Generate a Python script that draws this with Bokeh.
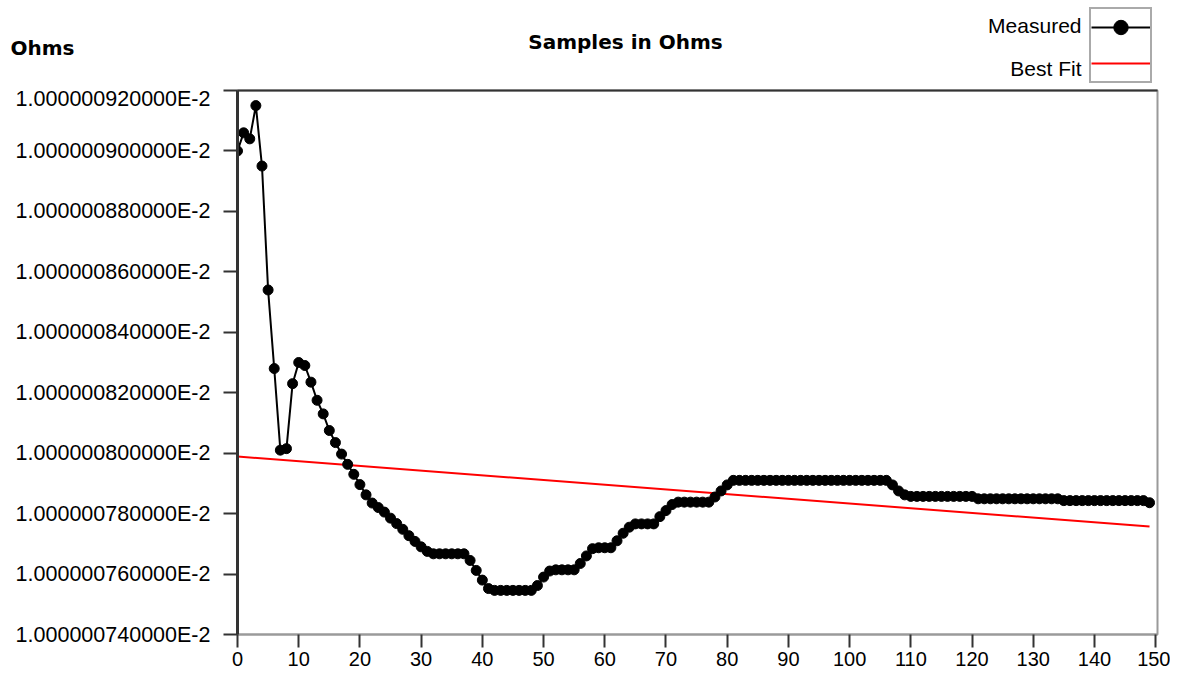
from bokeh.plotting import figure
from bokeh.layouts import column
from bokeh.models import (FixedTicker, CustomJSTickFormatter, Legend, LegendItem,
                          Label, LinearAxis, Range1d)
from bokeh.core.properties import value
from bokeh.embed import file_html
from bokeh.resources import INLINE

# Resistance samples: values are nano-ohms above 1.0E-2 ohm
SAMPLE_INDEX = list(range(150))
MEASURED_NOHM = [
    9.00, 9.06, 9.04, 9.15, 8.95, 8.54, 8.28, 8.01, 8.015, 8.23,
    8.30, 8.29, 8.235, 8.175, 8.13, 8.075, 8.035, 7.997, 7.963, 7.930,
    7.896, 7.862, 7.835, 7.820, 7.805, 7.785, 7.767, 7.748, 7.727, 7.708,
    7.690, 7.675, 7.667, 7.667, 7.667, 7.667, 7.667, 7.667, 7.645, 7.612,
    7.580, 7.552, 7.546, 7.546, 7.546, 7.546, 7.546, 7.546, 7.546, 7.562,
    7.590, 7.610, 7.614, 7.614, 7.614, 7.614, 7.635, 7.660, 7.684, 7.687,
    7.687, 7.687, 7.710, 7.735, 7.755, 7.766, 7.766, 7.766, 7.766, 7.790,
    7.810, 7.830, 7.838, 7.838, 7.838, 7.838, 7.838, 7.838, 7.855, 7.875,
    7.895, 7.910, 7.910, 7.910, 7.910, 7.910, 7.910, 7.910, 7.910, 7.910,
    7.910, 7.910, 7.910, 7.910, 7.910, 7.910, 7.910, 7.910, 7.910, 7.910,
    7.910, 7.910, 7.910, 7.910, 7.910, 7.910, 7.910, 7.895, 7.875, 7.862,
    7.857, 7.857, 7.857, 7.857, 7.857, 7.857, 7.857, 7.857, 7.857, 7.857,
    7.857, 7.849, 7.849, 7.849, 7.849, 7.849, 7.849, 7.849, 7.849, 7.849,
    7.849, 7.849, 7.849, 7.849, 7.849, 7.843, 7.843, 7.843, 7.843, 7.843,
    7.843, 7.843, 7.843, 7.843, 7.843, 7.843, 7.843, 7.843, 7.843, 7.836,
]
FIT_INDEX = [0, 149]
FIT_NOHM = [7.989, 7.757]

SERIES_NAMES = ["Measured", "Best Fit"]
TITLE = "Samples in Ohms"
Y_NAME = "Ohms"

X_TICKS = list(range(0, 151, 10))
Y_TICKS = [7.4, 7.6, 7.8, 8.0, 8.2, 8.4, 8.6, 8.8, 9.0, 9.2]
Y_TICK_LABELS = [
    "1.000000740000E-2", "1.000000760000E-2", "1.000000780000E-2",
    "1.000000800000E-2", "1.000000820000E-2", "1.000000840000E-2",
    "1.000000860000E-2", "1.000000880000E-2", "1.000000900000E-2",
    "1.000000920000E-2",
]

TICK_FONT = "Liberation Sans"
BOLD_FONT = "DejaVu Sans"
W = 1170
TOP_H = 86

# ---------------- header strip (title, unit name, legend) ----------------
top = figure(width=W, height=TOP_H, output_backend="svg", toolbar_location=None,
             x_range=Range1d(0, W), y_range=Range1d(TOP_H, 0),
             x_axis_location=None, y_axis_location=None, min_border=0,
             min_border_left=0, min_border_right=0, min_border_top=0,
             min_border_bottom=0)
top.frame_align = False
top.outline_line_color = None
top.background_fill_color = "white"
top.border_fill_color = "white"
top.grid.visible = False

top.add_layout(Label(x=625, y=41, text=TITLE, text_align="center",
                     text_baseline="middle", text_font=BOLD_FONT,
                     text_font_style="bold", text_font_size="20px",
                     text_color="black"))
top.add_layout(Label(x=10, y=47, text=Y_NAME, text_align="left",
                     text_baseline="middle", text_font=BOLD_FONT,
                     text_font_style="bold", text_font_size="20px",
                     text_color="black"))
for txt, ly in zip(SERIES_NAMES, (25, 68)):
    top.add_layout(Label(x=1081, y=ly, text=txt, text_align="right",
                         text_baseline="middle", text_font=TICK_FONT,
                         text_font_size="21px", text_color="black"))

# legend swatch renderers: same series and styles, mapped onto a range that
# keeps them out of view in the header strip (only their legend swatch shows)
top.extra_x_ranges = {"series_x": Range1d(1000, 1001)}
top.extra_y_ranges = {"series_y": Range1d(1000, 1001)}
sw_line = top.line(SAMPLE_INDEX, MEASURED_NOHM, line_color="black", line_width=2,
                   x_range_name="series_x", y_range_name="series_y")
sw_pts = top.scatter(SAMPLE_INDEX, MEASURED_NOHM, size=10, fill_color="black",
                     line_color="black", x_range_name="series_x",
                     y_range_name="series_y")
sw_fit = top.line(FIT_INDEX, FIT_NOHM, line_color="#ff0000", line_width=2,
                  x_range_name="series_x", y_range_name="series_y")
legend = Legend(items=[LegendItem(label=value(""), renderers=[sw_line, sw_pts]),
                       LegendItem(label=value(""), renderers=[sw_fit])],
                location=(1089, 3), glyph_width=59, glyph_height=36,
                label_width=0, label_standoff=0, label_height=0, padding=0,
                spacing=0, margin=0, border_line_color="#555555",
                border_line_width=2, background_fill_color="white",
                background_fill_alpha=1.0)
top.add_layout(legend)

# ---------------- main chart ----------------
p = figure(width=W, height=674 - TOP_H, output_backend="svg", toolbar_location=None,
           x_range=Range1d(0, 150.3), y_range=Range1d(7.4, 9.2),
           min_border_left=237, min_border_right=13, min_border_top=4,
           min_border_bottom=40)
p.frame_align = False
p.background_fill_color = "white"
p.border_fill_color = "white"
p.outline_line_color = "#9a9a9a"
p.outline_line_width = 2
p.xgrid.visible = False
p.ygrid.visible = False

fit = p.line(FIT_INDEX, FIT_NOHM, line_color="#ff0000", line_width=2)
meas_line = p.line(SAMPLE_INDEX, MEASURED_NOHM, line_color="black", line_width=2)
meas_pts = p.scatter(SAMPLE_INDEX, MEASURED_NOHM, size=10, fill_color="black",
                     line_color="black")

p.xaxis.ticker = FixedTicker(ticks=X_TICKS)
p.yaxis.ticker = FixedTicker(ticks=Y_TICKS)
p.yaxis.formatter = CustomJSTickFormatter(
    args=dict(tick_values=Y_TICKS, tick_labels=Y_TICK_LABELS),
    code="const i = tick_values.findIndex(t => Math.abs(t - tick) < 1e-6); return i >= 0 ? tick_labels[i] : '';")
for ax in (p.xaxis[0], p.yaxis[0]):
    ax.major_label_text_font = TICK_FONT
    ax.major_label_text_color = "black"
    ax.major_tick_in = 0
    ax.minor_tick_line_color = None
    ax.major_tick_line_color = "#333333"
    ax.major_tick_line_width = 2
p.yaxis.major_label_text_font_size = "21.5px"
p.yaxis.major_tick_out = 14
p.yaxis.major_label_standoff = 13
p.yaxis.axis_line_color = "#333333"
p.yaxis.axis_line_width = 3
p.xaxis.major_label_text_font_size = "20px"
p.xaxis.major_tick_out = 13
p.xaxis.major_label_standoff = 4
p.xaxis.axis_line_color = "#9a9a9a"
p.xaxis.axis_line_width = 2

top_axis = LinearAxis(ticker=FixedTicker(ticks=[]), axis_line_color="#333333",
                      axis_line_width=2, major_tick_out=0, major_tick_in=0,
                      minor_tick_out=0, minor_tick_in=0,
                      major_label_text_font_size="0px", major_label_standoff=0)
p.add_layout(top_axis, "above")

layout = column(top, p, spacing=0)
open("out.html", "w").write(file_html(layout, INLINE))
